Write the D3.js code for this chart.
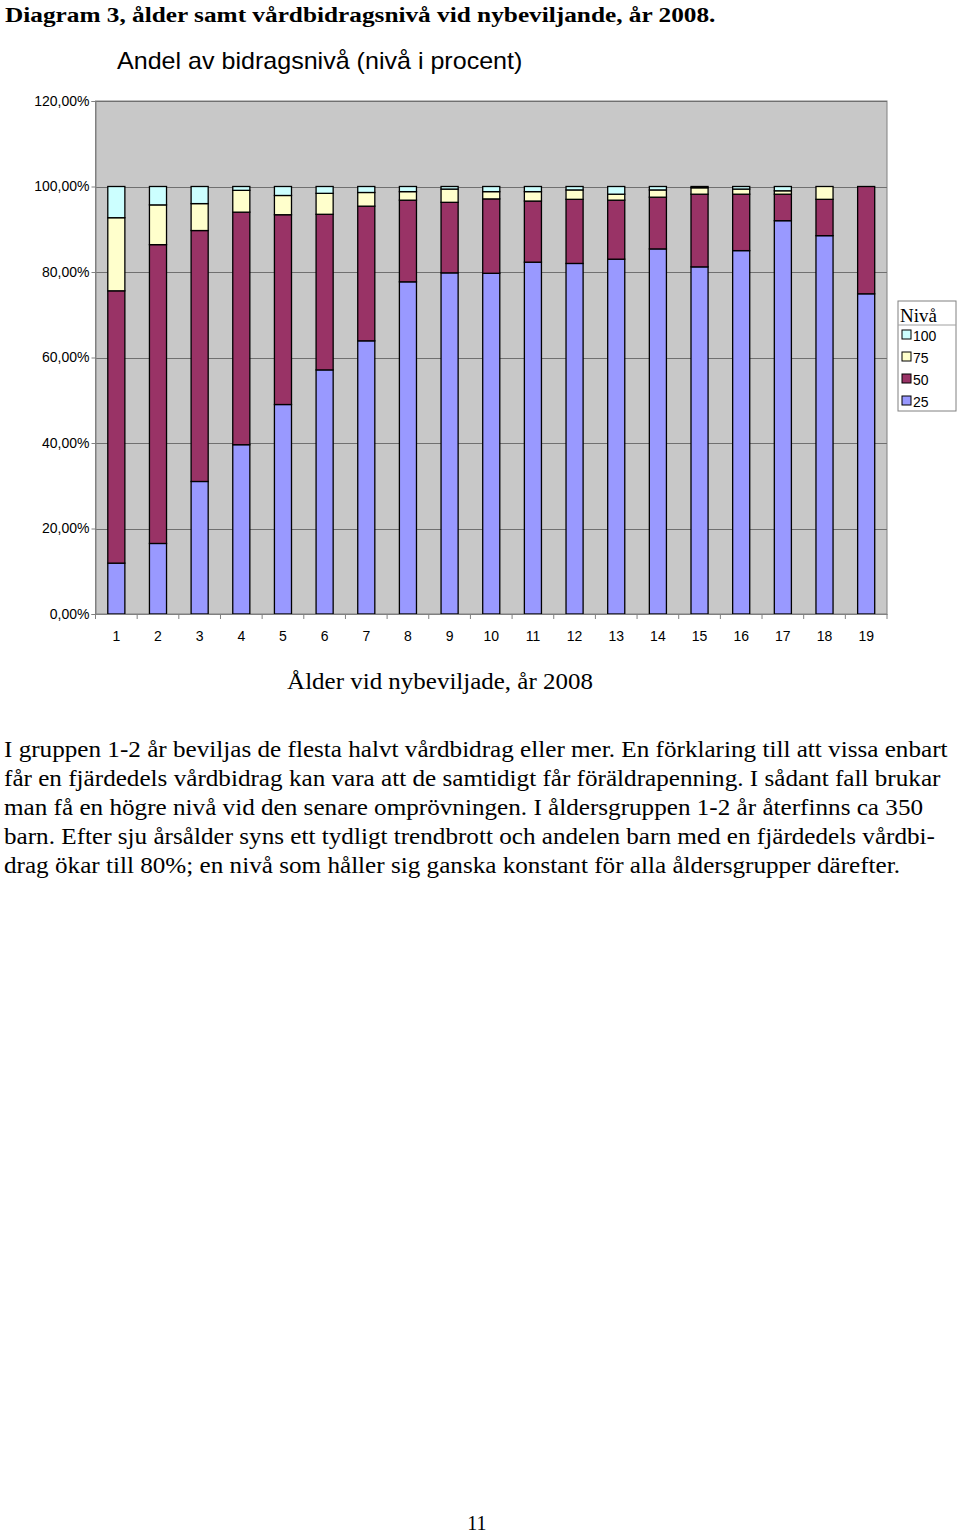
<!DOCTYPE html>
<html><head><meta charset="utf-8">
<script src="https://cdn.jsdelivr.net/npm/d3@7"></script>
<style>body{margin:0;background:#fff}svg{display:block}</style>
</head><body>
<script>
const ages = ["1","2","3","4","5","6","7","8","9","10","11","12","13","14","15","16","17","18","19"];
const levels = ["25","50","75","100"];
const niva25  = [11.9,16.5,31.0,39.6,49.0,57.1,63.9,77.7,79.8,79.7,82.3,82.0,83.0,85.4,81.2,85.0,92.0,88.5,74.9];
const niva50  = [63.7,69.9,58.7,54.4,44.4,36.4,31.5,19.1,16.5,17.4,14.3,15.0,13.8,12.1,17.0,13.2,6.2,8.5,25.1];
const niva75  = [17.1,9.3,6.3,5.1,4.5,4.9,3.2,2.0,3.1,1.7,2.2,2.2,1.4,1.7,1.5,1.2,0.8,3.0,0];
const niva100 = [7.3,4.3,4.0,0.9,2.1,1.6,1.4,1.2,0.6,1.2,1.2,0.8,1.8,0.8,0.3,0.6,1.0,0,0];
const yTicks = [0,0.2,0.4,0.6,0.8,1.0,1.2];
const colors = {"25":"#9999FF","50":"#993366","75":"#FFFFCC","100":"#CCFFFF"};

const paragraph = [
 "I gruppen 1-2 år beviljas de flesta halvt vårdbidrag eller mer. En förklaring till att vissa enbart",
 "får en fjärdedels vårdbidrag kan vara att de samtidigt får föräldrapenning. I sådant fall brukar",
 "man få en högre nivå vid den senare omprövningen. I åldersgruppen 1-2 år återfinns ca 350",
 "barn. Efter sju årsålder syns ett tydligt trendbrott och andelen barn med en fjärdedels vårdbi-",
 "drag ökar till 80%; en nivå som håller sig ganska konstant för alla åldersgrupper därefter."
];

const table = ages.map((a,i)=>({age:a,"25":niva25[i]/100,"50":niva50[i]/100,"75":niva75[i]/100,"100":niva100[i]/100}));
const stack = d3.stack().keys(levels)(table);

const svg = d3.select("body").append("svg").attr("width",960).attr("height",1534);
svg.append("rect").attr("width",960).attr("height",1534).attr("fill","#fff");

const serif = "'Liberation Serif','Times New Roman',serif";
const sans = "'Liberation Sans',Arial,sans-serif";

const L=95.5, R=887, T=101, B=614;
const x = d3.scaleBand().domain(ages).range([L,R]).paddingInner(0.59).paddingOuter(0.295);
const y = d3.scaleLinear().domain([0,1.2]).range([B,T]);
const loc = d3.formatLocale({decimal:",",thousands:" ",grouping:[3],currency:["","kr"]});
const fmt = loc.format(".2%");

function wideText(parent, tx, ty, sx, txt){
  return parent.append("text").attr("transform",`translate(${tx},${ty}) scale(${sx},1)`).text(txt);
}

// titles
wideText(svg,5,22,1.15,"Diagram 3, ålder samt vårdbidragsnivå vid nybeviljande, år 2008.")
  .attr("font-family",serif).attr("font-weight","bold").attr("font-size",22).attr("fill","#000");
wideText(svg,117,69,1.09,"Andel av bidragsnivå (nivå i procent)")
  .attr("font-family",sans).attr("font-size",23).attr("fill","#000");

// plot area
svg.append("rect").attr("x",L).attr("y",T).attr("width",R-L).attr("height",B-T).attr("fill","#C8C8C8")
  .attr("stroke","#808080").attr("stroke-width",1);
svg.append("g").selectAll("line").data(yTicks).join("line")
  .attr("x1",L).attr("x2",R).attr("y1",d=>Math.round(y(d))+0.5).attr("y2",d=>Math.round(y(d))+0.5)
  .attr("stroke","#707070").attr("stroke-width",1);

// bars
svg.append("g").selectAll("g").data(stack).join("g").attr("fill",d=>colors[d.key])
  .selectAll("rect").data(d=>d.filter(p=>p[1]-p[0]>0)).join("rect")
  .attr("x",d=>x(d.data.age)).attr("width",x.bandwidth())
  .attr("y",d=>y(d[1])).attr("height",d=>y(d[0])-y(d[1]))
  .attr("stroke","#000").attr("stroke-width",1.3);

// axes
const yAxis = d3.axisLeft(y).tickValues(yTicks).tickFormat(fmt).tickSize(4).tickPadding(2);
const gy = svg.append("g").attr("transform",`translate(${L},0)`).call(yAxis);
gy.select(".domain").attr("stroke","#808080");
gy.selectAll(".tick line").attr("stroke","#808080");
gy.selectAll("text").attr("font-family",sans).attr("font-size",14).attr("fill","#000");

const xAxis = d3.axisBottom(x).tickSize(0).tickPadding(17);
const gx = svg.append("g").attr("transform",`translate(0,${B})`).call(xAxis);
gx.select(".domain").attr("stroke","#808080");
gx.selectAll("text").attr("font-family",sans).attr("font-size",14).attr("fill","#000");
const edges = [L].concat(ages.slice(1).map(a=>x(a)-(x.step()-x.bandwidth())/2)).concat([R]);
svg.append("g").selectAll("line").data(edges).join("line")
  .attr("x1",d=>d).attr("x2",d=>d).attr("y1",B).attr("y2",B+5).attr("stroke","#808080");

wideText(svg,440,689,1.086,"Ålder vid nybeviljade, år 2008").attr("text-anchor","middle")
  .attr("font-family",serif).attr("font-size",23).attr("fill","#000");

// legend
const lg = svg.append("g").attr("transform","translate(898,301)");
lg.append("rect").attr("width",58).attr("height",110).attr("fill","#fff").attr("stroke","#808080");
lg.append("text").attr("x",2).attr("y",21).attr("font-family",serif).attr("font-size",19).text("Nivå");
lg.append("line").attr("x1",0).attr("x2",58).attr("y1",24).attr("y2",24).attr("stroke","#a0a0a0");
const legItems = levels.slice().reverse();
const li = lg.selectAll("g.it").data(legItems).join("g").attr("class","it")
  .attr("transform",(d,i)=>`translate(0,${34+i*22})`);
li.append("rect").attr("x",4).attr("y",-5).attr("width",9).attr("height",9)
  .attr("fill",d=>colors[d]).attr("stroke","#000").attr("stroke-width",1);
li.append("text").attr("x",15).attr("y",5.5).attr("font-family",sans).attr("font-size",14).text(d=>d);

// paragraph
const pg = svg.append("g");
paragraph.forEach((line,i)=>{
  wideText(pg,4,757+i*29,1.094,line).attr("font-family",serif).attr("font-size",23).attr("fill","#000");
});

svg.append("text").attr("x",477).attr("y",1530).attr("text-anchor","middle").attr("font-family",serif)
  .attr("font-size",20).text("11");
</script>
</body></html>
